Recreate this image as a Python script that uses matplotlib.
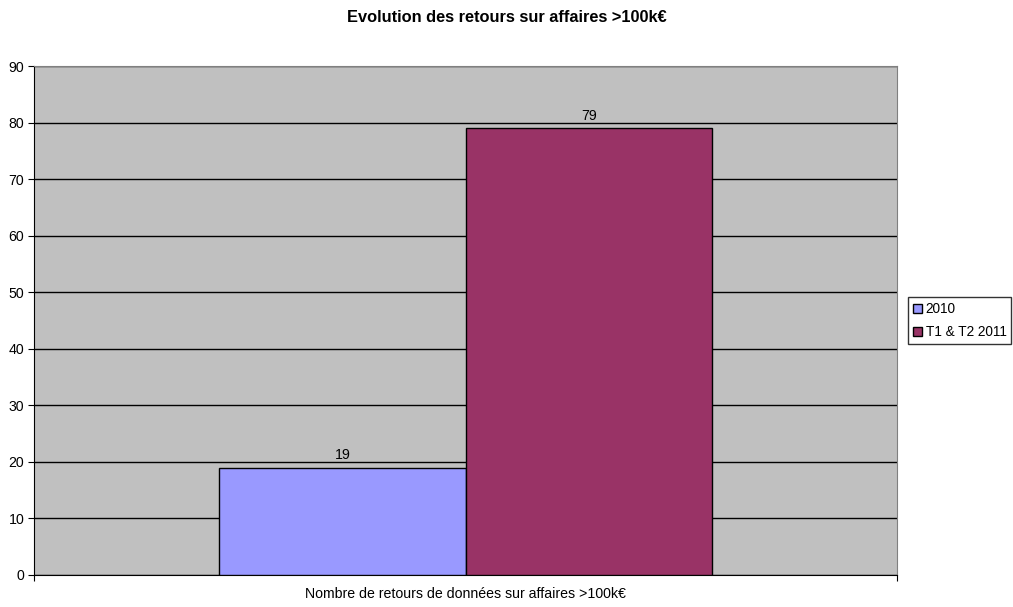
import matplotlib.pyplot as plt
import numpy as np

# Data
series = ['2010', 'T1 & T2 2011']
values = [19, 79]
colors = ['#9999FF', '#993366']
category = 'Nombre de retours de données sur affaires >100k€'
yticks = list(range(0, 91, 10))

plt.rcParams['font.family'] = ['Liberation Sans', 'DejaVu Sans']
FS = 10.2

fig = plt.figure(figsize=(10.13, 6.07), dpi=100)
ax = fig.add_axes([34 / 1013, 32 / 607, 863 / 1013, 509 / 607])
ax.set_facecolor('#C0C0C0')

bar_w = 246 / 862
offsets = [-bar_w / 2, bar_w / 2]
for name, val, col, off in zip(series, values, colors, offsets):
    ax.bar(off, val, width=bar_w, color=col, edgecolor='black', linewidth=1, label=name, zorder=3)
    ax.text(off, val + 1.0, str(val), ha='center', va='bottom', fontsize=FS)

ax.set_xlim(-0.5, 0.5)
ax.set_ylim(0, 90)
ax.set_yticks(yticks)
ax.yaxis.grid(True, color='black', linewidth=1)
ax.set_axisbelow(True)
ax.tick_params(axis='y', direction='out', length=4, labelsize=FS, pad=3)
ax.set_xticks([-0.5, 0.5])
ax.set_xticklabels(['', ''])
ax.tick_params(axis='x', direction='out', length=4)
ax.set_xlabel(category, fontsize=FS, labelpad=1)

for s in ['top', 'right']:
    ax.spines[s].set_color('#808080')
for s in ['left', 'bottom']:
    ax.spines[s].set_color('black')

fig.suptitle('Evolution des retours sur affaires >100k€', fontsize=11.8, fontweight='bold', y=0.983)

leg = ax.legend(loc='center left', bbox_to_anchor=(1.0127, 0.5), fontsize=9.8, frameon=True,
                fancybox=False, edgecolor='black', borderpad=0.35, handlelength=0.65,
                handleheight=0.65, handletextpad=0.3, labelspacing=0.65, borderaxespad=0)
for h in leg.legend_handles:
    h.set_edgecolor('black')
leg.get_frame().set_linewidth(1)

plt.savefig('out.png')
